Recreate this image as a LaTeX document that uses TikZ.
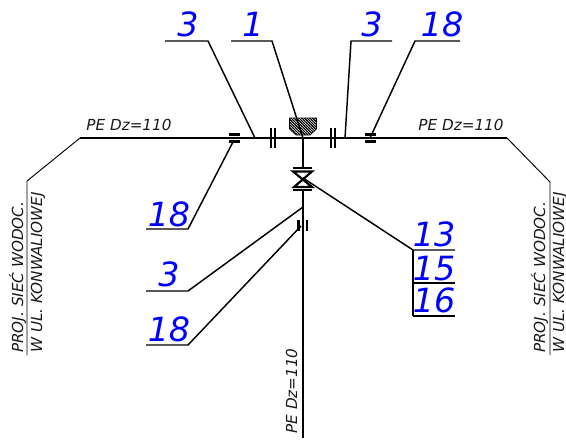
\documentclass[tikz,border=0pt]{standalone}
\usepackage{fontspec}
\setmainfont{DejaVu Sans}
\newfontfamily\cadfont{DejaVu Sans Oblique}
\usetikzlibrary{patterns}
\definecolor{labelblue}{RGB}{0,0,255}
\pgfdeclarepatternformonly{densehatch}{\pgfqpoint{-1pt}{-1pt}}{\pgfqpoint{3pt}{3pt}}{\pgfqpoint{2pt}{2pt}}{
  \pgfsetlinewidth{0.7pt}
  \pgfpathmoveto{\pgfqpoint{-0.5pt}{2.5pt}}
  \pgfpathlineto{\pgfqpoint{2.5pt}{-0.5pt}}
  \pgfusepath{stroke}
}
\tikzset{
  x=0.75pt,y=-0.75pt,
  pipe/.style={draw=black,line width=1.9pt},
  lead/.style={draw=black,line width=1.1pt},
  thin lead/.style={draw=black,line width=0.7pt},
  num/.style={text=labelblue,inner sep=0pt,font=\fontsize{25}{25}\selectfont\itshape,anchor=base},
  pe/.style={text=black!90,inner sep=0pt,font=\cadfont\fontsize{11.4}{11.4}\selectfont,anchor=base},
  fit flange/.style={draw=black,line width=1.6pt},
}
\begin{document}
\begin{tikzpicture}
\useasboundingbox (0,0) rectangle (566,443);
% pipe points
\coordinate (lend) at (27,355); \coordinate (lbend) at (27,181); \coordinate (lkink) at (80,138);
\coordinate (rend) at (550,355); \coordinate (rbend) at (550,182); \coordinate (rkink) at (507,138);
\coordinate (tee) at (303,138); \coordinate (vtop) at (303,168); \coordinate (vbot) at (303,189);
\coordinate (vend) at (303,438);
\path[thin lead] (lend) -- (lbend) -- (lkink);
\path[thin lead] (rend) -- (rbend) -- (rkink);
\path[pipe] (lkink) -- (rkink);
\path[pipe] (tee) -- (vtop);
\path[pipe] (vbot) -- (vend);
% cap
\path[draw=black,line width=.5pt,pattern=densehatch] (289.5,118) -- (316.5,118) -- (316.5,129) -- (310,135) -- (296,135) -- (289.5,129) -- cycle;
% flanges
\foreach \x in {271,275,331,335}{\path[fit flange] (\x,128) -- (\x,148);}
% couplings
\foreach \x in {234.5,370.5}{
  \path[fit flange] (\x-5.5,134.5) -- (\x+5.5,134.5);
  \path[fit flange] (\x-5.5,141.5) -- (\x+5.5,141.5);
}
\path[fit flange] (298.5,220) -- (298.5,231);
\path[fit flange] (307,220) -- (307,231);
% valve
\path[fit flange] (293,168) -- (312,168);
\path[fit flange] (293,171.5) -- (312,171.5) -- (294,187) -- (312,187) -- cycle;
\path[fit flange] (293,190) -- (312,190);
% leaders
\coordinate (a1) at (165,41); \coordinate (a2) at (208,41); \coordinate (a3) at (255,138);
\path[lead] (a1) -- (a2) -- (a3);
\coordinate (b1) at (231,41); \coordinate (b2) at (272,41);
\path[lead] (b1) -- (b2) -- (tee);
\coordinate (c1) at (392,41); \coordinate (c2) at (351,41); \coordinate (c3) at (345,138);
\path[lead] (c1) -- (c2) -- (c3);
\coordinate (d1) at (460,41); \coordinate (d2) at (415,41); \coordinate (d3) at (370,138);
\path[lead] (d1) -- (d2) -- (d3);
\coordinate (e1) at (146,229); \coordinate (e2) at (188,229); \coordinate (e3) at (234,140);
\path[lead] (e1) -- (e2) -- (e3);
\coordinate (f1) at (146,291); \coordinate (f2) at (188,291); \coordinate (f3) at (303,207);
\path[lead] (f1) -- (f2) -- (f3);
\coordinate (g1) at (146,345); \coordinate (g2) at (188,345); \coordinate (g3) at (301,226);
\path[lead] (g1) -- (g2) -- (g3);
\coordinate (h0) at (303,178); \coordinate (h1) at (413,250); \coordinate (h2) at (455,250);
\coordinate (i1) at (413,283); \coordinate (i2) at (455,283);
\coordinate (j1) at (413,316); \coordinate (j2) at (455,316);
\path[lead] (h0) -- (h1) -- (h2);
\path[lead] (i1) -- (i2);
\path[lead] (j1) -- (j2);
\path[lead] (h1) -- (j1);
% labels
\node[num] (n3a) at (188,36) {3};
\node[num] (n1) at (253,36) {1};
\node[num] (n3b) at (372,36) {3};
\node[num] (n18a) at (442,36) {18};
\node[num] (n18b) at (169,226) {18};
\node[num] (n3c) at (169,286) {3};
\node[num] (n18c) at (169,341) {18};
\node[num] (n13) at (434,246) {13};
\node[num] (n15) at (434,280) {15};
\node[num] (n16) at (434,312) {16};
\node[pe] (p1) at (129,130) {PE Dz=110};
\node[pe] (p2) at (461,130) {PE Dz=110};
\node[pe,rotate=90] (p3) at (297,391) {PE Dz=110};
\node[pe,rotate=90,anchor=base west] (w1) at (23,353) {PROJ. SIEĆ WODOC.};
\node[pe,rotate=90,anchor=base west] (w2) at (42,353) {W UL. KONWALIOWEJ};
\node[pe,rotate=90,anchor=base west] (w3) at (545,353) {PROJ. SIEĆ WODOC.};
\node[pe,rotate=90,anchor=base west] (w4) at (564,353) {W UL. KONWALIOWEJ};
\end{tikzpicture}
\end{document}
